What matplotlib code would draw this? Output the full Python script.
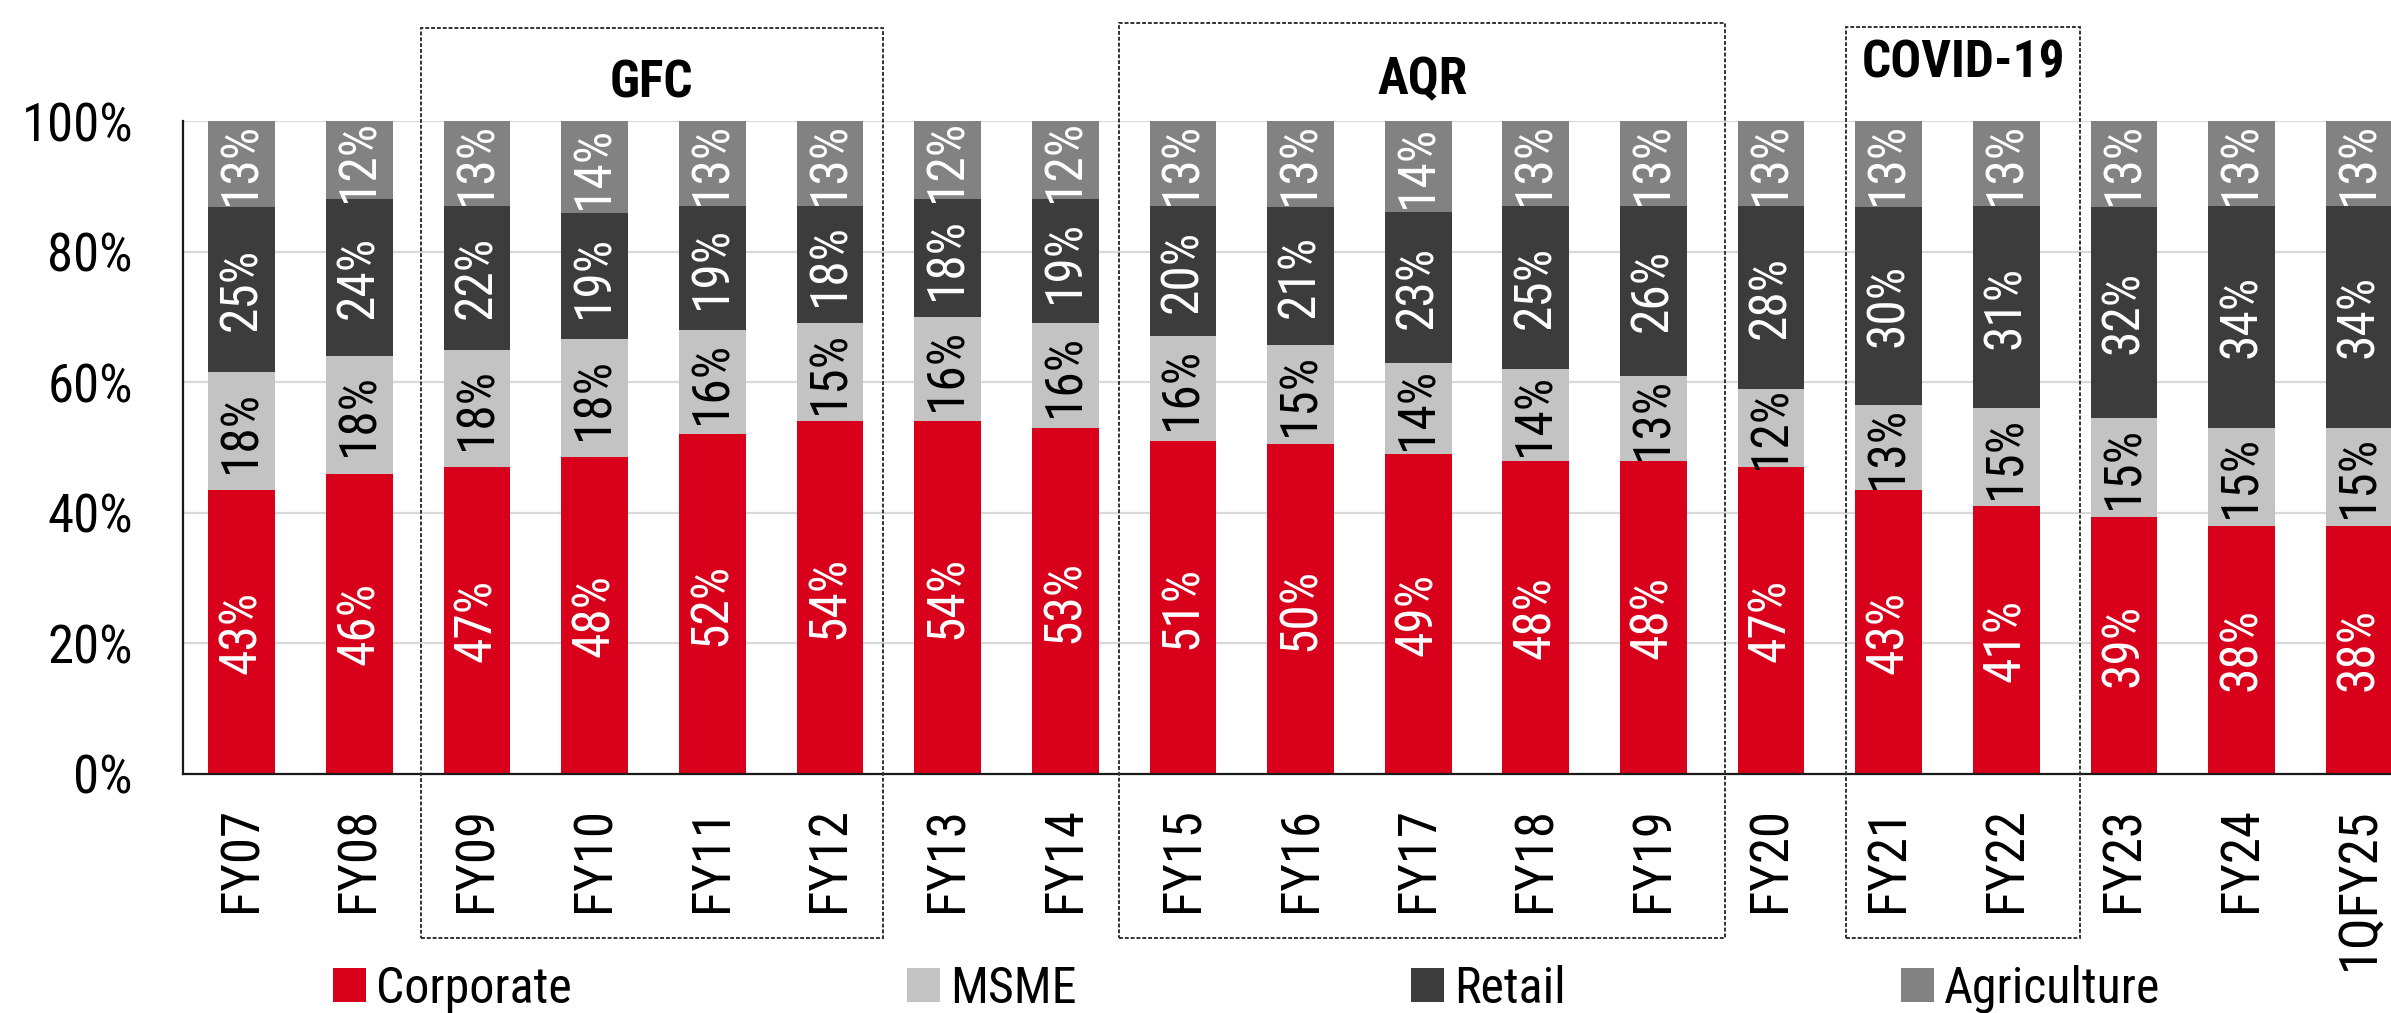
import matplotlib
matplotlib.use("Agg")
import matplotlib.pyplot as plt
import matplotlib.transforms as mtransforms
from matplotlib.patches import Rectangle, Patch
from matplotlib import font_manager
import numpy as np

# ---- data -------------------------------------------------------------
categories = ["FY07", "FY08", "FY09", "FY10", "FY11", "FY12", "FY13", "FY14",
              "FY15", "FY16", "FY17", "FY18", "FY19", "FY20", "FY21", "FY22",
              "FY23", "FY24", "1QFY25"]
corporate = [43, 46, 47, 48, 52, 54, 54, 53, 51, 50, 49, 48, 48, 47, 43, 41, 39, 38, 38]
msme = [18, 18, 18, 18, 16, 15, 16, 16, 16, 15, 14, 14, 13, 12, 13, 15, 15, 15, 15]
retail = [25, 24, 22, 19, 19, 18, 18, 19, 20, 21, 23, 25, 26, 28, 30, 31, 32, 34, 34]
agriculture = [13, 12, 13, 14, 13, 13, 12, 12, 13, 13, 14, 13, 13, 13, 13, 13, 13, 13, 13]
series_names = ["Corporate", "MSME", "Retail", "Agriculture"]
y_ticks = [0, 20, 40, 60, 80, 100]
y_tick_labels = ["0%", "20%", "40%", "60%", "80%", "100%"]
periods = ["GFC", "AQR", "COVID-19"]

# ---- fonts: a narrow grotesque, with a bold cut for the headings ---------
fonts = font_manager.fontManager.ttflist


def pick_family(candidates, need_bold=False):
    for name in candidates:
        cuts = [f for f in fonts if f.name == name]
        if not cuts:
            continue
        if need_bold and not any(int(f.weight) >= 700 for f in cuts
                                 if str(f.weight).isdigit()):
            continue
        return name
    return "Liberation Sans"


narrow_candidates = ["Liberation Sans Narrow", "Arial Narrow", "Roboto Condensed",
                     "PT Sans Narrow", "Archivo Narrow", "Asap Condensed"]
narrow = pick_family(narrow_candidates)
narrow_bold = pick_family(narrow_candidates, need_bold=True)
plt.rcParams["font.family"] = [narrow, "Liberation Sans", "DejaVu Sans"]

# ---- styling / layout ---------------------------------------------------
colors = ["#D8001A", "#C3C3C3", "#3C3C3C", "#828282"]
label_colors = ["white", "black", "white", "white"]

W, H = 2391, 1013
DPI = 100
fig = plt.figure(figsize=(W / DPI, H / DPI), dpi=DPI)

ax_left_px, ax_top_px, ax_bottom_px = 183, 121, 774
ax = fig.add_axes([ax_left_px / W, 1 - ax_bottom_px / H,
                   1 - ax_left_px / W, (ax_bottom_px - ax_top_px) / H])

x = np.arange(len(categories))
values = np.array([corporate, msme, retail, agriculture], dtype=float)
totals = values.sum(axis=0)
shares = values / totals * 100.0  # 100% stacked

bar_w = 0.567
bottom = np.zeros(len(categories))
for i, name in enumerate(series_names):
    ax.bar(x, shares[i], bar_w, bottom=bottom, color=colors[i],
           label=name, zorder=3, linewidth=0)
    for xi, b, h, v in zip(x, bottom, shares[i], values[i]):
        ax.text(xi, b + h / 2, f"{int(v)}%", rotation=90, ha="center",
                va="center", color=label_colors[i], fontsize=37, zorder=4,
                rotation_mode="anchor")
    bottom += shares[i]

ax.set_xlim(-0.5, 18.27)
ax.set_ylim(0, 100)
ax.set_yticks(y_ticks)
ax.set_yticklabels(y_tick_labels, fontsize=38)
ax.set_xticks(x)
ax.set_xticklabels(categories, rotation=90, fontsize=38)
ax.tick_params(axis="x", length=0, pad=24)
ax.tick_params(axis="y", length=0, pad=36)
ax.grid(axis="y", color="#D9D9D9", linewidth=1.6, zorder=0)
ax.set_axisbelow(True)
for s in ("top", "right"):
    ax.spines[s].set_visible(False)
for s in ("left", "bottom"):
    ax.spines[s].set_color("#1a1a1a")
    ax.spines[s].set_linewidth(1.6)
    ax.spines[s].set_zorder(5)

# ---- dotted period boxes with headings ---------------------------------
box_edges = [(1.52, 5.45), (7.46, 12.61), (13.64, 15.63)]
box_tops_px = [28, 23, 27]
box_bottom_px = 938
title_y_px = [83, 80, 63]
trans = mtransforms.blended_transform_factory(ax.transData, fig.transFigure)
for name, (x0, x1), top_px, ty in zip(periods, box_edges, box_tops_px, title_y_px):
    rect = Rectangle((x0, 1 - box_bottom_px / H), x1 - x0,
                     (box_bottom_px - top_px) / H, transform=trans,
                     fill=False, edgecolor="#333333", linewidth=1.4,
                     linestyle=(0, (2, 1)), clip_on=False, zorder=6)
    fig.add_artist(rect)
    fig.text((x0 + x1) / 2, 1 - ty / H, name, transform=trans, fontsize=37,
             fontweight="bold", family=[narrow_bold, "Liberation Sans"],
             ha="center", va="center")

# ---- legend -----------------------------------------------------------
handles = [Patch(facecolor=c, edgecolor="none") for c in colors]
fig.legend(handles, series_names, loc="center left",
           bbox_to_anchor=(333 / W, 1 - 989 / H), bbox_transform=fig.transFigure,
           ncol=4, frameon=False, fontsize=36, handlelength=0.66,
           handleheight=0.66, handletextpad=0.2, columnspacing=6.7,
           borderpad=0, borderaxespad=0)

fig.savefig("out.png", dpi=DPI, facecolor="white")
